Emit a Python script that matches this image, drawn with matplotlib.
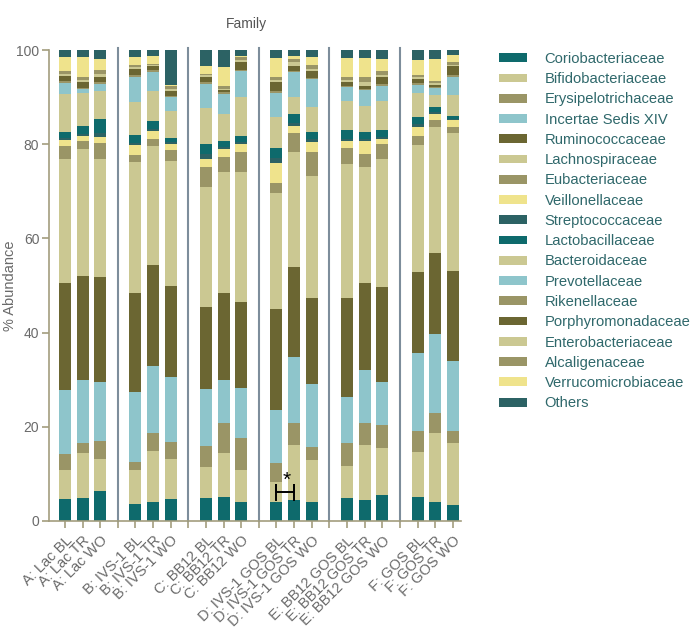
import matplotlib
matplotlib.use("Agg")
import matplotlib.pyplot as plt
import numpy as np

plt.rcParams['font.family'] = ['Liberation Sans', 'DejaVu Sans']

# Ονόματα δειγμάτων (3 χρονικά σημεία ανά ομάδα)
samples = ["A: Lac BL", "A: Lac TR", "A: Lac WO",
           "B: IVS-1 BL", "B: IVS-1 TR", "B: IVS-1 WO",
           "C: BB12 BL", "C: BB12 TR", "C: BB12 WO",
           "D: IVS-1 GOS BL", "D: IVS-1 GOS TR", "D: IVS-1 GOS WO",
           "E: BB12 GOS BL", "E: BB12 GOS TR", "E: BB12 GOS WO",
           "F: GOS BL", "F: GOS TR", "F: GOS WO"]

# Σχετική αφθονία (%) κάθε οικογένειας ανά δείγμα
coriobacteriaceae = [4.7, 4.9, 6.4, 3.6, 4.0, 4.7, 4.9, 5.1, 4.0, 4.0, 4.5, 4.0, 4.9, 4.5, 5.5, 5.1, 4.0, 3.4]
bifidobacteriaceae = [6.1, 9.5, 6.8, 7.2, 10.9, 8.5, 6.6, 9.3, 6.8, 4.3, 11.6, 9.0, 6.8, 11.6, 10.0, 9.5, 14.7, 13.2]
erysipelotrichaceae = [3.4, 2.2, 3.8, 1.7, 3.8, 3.6, 4.4, 6.4, 6.8, 4.0, 4.7, 2.7, 4.9, 4.7, 4.9, 4.5, 4.2, 2.5]
incertae_sedis = [13.6, 13.3, 12.5, 14.9, 14.2, 13.8, 12.1, 9.1, 10.6, 11.3, 14.0, 13.4, 9.7, 11.3, 9.1, 16.6, 16.8, 14.9]
ruminococcaceae = [22.7, 22.1, 22.3, 21.0, 21.5, 19.3, 17.4, 18.5, 18.3, 21.4, 19.1, 18.2, 21.0, 18.4, 20.2, 17.2, 17.2, 19.1]
lachnospiraceae = [26.4, 27.0, 25.1, 27.8, 25.2, 26.5, 25.5, 25.7, 27.6, 24.6, 24.4, 25.9, 28.5, 24.7, 27.2, 26.9, 26.8, 29.3]
eubacteriaceae = [2.7, 1.7, 3.4, 1.5, 1.5, 2.4, 4.3, 3.2, 4.2, 2.2, 4.1, 5.1, 3.4, 2.7, 3.1, 1.9, 1.4, 1.3]
veillonellaceae = [1.3, 1.0, 1.2, 2.1, 1.7, 1.2, 1.7, 1.7, 1.7, 4.2, 1.5, 2.2, 1.5, 2.8, 1.1, 2.0, 1.3, 1.4]
streptococcaceae = [0.5, 0.5, 0.8, 0.5, 0.5, 0.4, 1.1, 0.5, 0.5, 1.0, 0.5, 0.5, 0.5, 0.5, 0.5, 0.5, 0.5, 0.3]
lactobacillaceae = [1.2, 1.7, 3.1, 1.7, 1.6, 0.9, 2.0, 1.2, 1.2, 2.2, 2.0, 1.6, 1.8, 1.4, 1.4, 1.6, 1.0, 0.6]
bacteroidaceae = [8.1, 7.0, 5.9, 7.0, 6.4, 5.7, 7.7, 5.7, 8.3, 6.6, 3.6, 5.3, 6.2, 5.5, 6.2, 5.1, 2.5, 4.4]
prevotellaceae = [2.3, 0.8, 1.5, 5.3, 4.0, 3.0, 5.1, 4.3, 5.5, 5.1, 5.3, 5.9, 2.9, 3.4, 3.2, 1.7, 1.5, 3.9]
rikenellaceae = [0.5, 0.3, 0.4, 0.3, 0.4, 0.3, 0.4, 0.3, 0.3, 0.4, 0.3, 0.3, 0.3, 0.3, 0.3, 0.3, 0.2, 0.3]
porphyromonadaceae = [1.0, 1.2, 1.1, 1.4, 0.9, 1.0, 1.1, 0.6, 1.7, 1.9, 1.0, 1.4, 0.8, 0.5, 1.6, 0.9, 0.4, 2.0]
enterobacteriaceae = [0.3, 0.4, 0.6, 0.4, 0.2, 0.4, 0.3, 0.2, 0.3, 0.4, 0.9, 0.4, 0.4, 0.9, 0.3, 0.4, 0.5, 0.3]
alcaligenaceae = [0.8, 0.7, 0.8, 0.4, 0.2, 0.7, 0.4, 0.6, 0.7, 0.7, 0.6, 0.9, 0.7, 1.1, 0.9, 0.5, 0.4, 0.5]
verrucomicrobiaceae = [2.9, 4.2, 2.4, 1.7, 1.8, 0.2, 1.6, 4.0, 0.2, 4.0, 0.6, 1.7, 4.0, 4.0, 2.6, 3.2, 4.7, 1.5]
others = [1.5, 1.5, 1.9, 1.5, 1.2, 7.4, 3.4, 3.6, 1.3, 1.7, 1.3, 1.5, 1.7, 1.7, 1.9, 2.1, 1.9, 1.1]

# Χρώματα της παλέτας
TEAL = "#0e6a6c"
SLATE = "#2c6264"
KHAKI = "#cbc892"
OLIVE = "#9a9566"
LIGHTBLUE = "#8ec5cb"
DARKOLIVE = "#6b6632"
YELLOW = "#efe38c"

families = [
    ("Coriobacteriaceae", coriobacteriaceae, TEAL),
    ("Bifidobacteriaceae", bifidobacteriaceae, KHAKI),
    ("Erysipelotrichaceae", erysipelotrichaceae, OLIVE),
    ("Incertae Sedis XIV", incertae_sedis, LIGHTBLUE),
    ("Ruminococcaceae", ruminococcaceae, DARKOLIVE),
    ("Lachnospiraceae", lachnospiraceae, KHAKI),
    ("Eubacteriaceae", eubacteriaceae, OLIVE),
    ("Veillonellaceae", veillonellaceae, YELLOW),
    ("Streptococcaceae", streptococcaceae, SLATE),
    ("Lactobacillaceae", lactobacillaceae, TEAL),
    ("Bacteroidaceae", bacteroidaceae, KHAKI),
    ("Prevotellaceae", prevotellaceae, LIGHTBLUE),
    ("Rikenellaceae", rikenellaceae, OLIVE),
    ("Porphyromonadaceae", porphyromonadaceae, DARKOLIVE),
    ("Enterobacteriaceae", enterobacteriaceae, KHAKI),
    ("Alcaligenaceae", alcaligenaceae, OLIVE),
    ("Verrucomicrobiaceae", verrucomicrobiaceae, YELLOW),
    ("Others", others, SLATE),
]

# Θέσεις: 3 μπάρες ανά ομάδα και ένα κενό για τη διαχωριστική γραμμή
positions = np.array([g * 4 + i for g in range(6) for i in range(3)])
separators = [3, 7, 11, 15, 19]

fig = plt.figure(figsize=(6.95, 6.33), dpi=100)
ax = fig.add_axes([0.0705, 0.177, 0.5925, 0.744])

bottom = np.zeros(len(samples))
for name, values, color in families:
    values = np.array(values)
    ax.bar(positions, values, bottom=bottom, width=0.68, color=color, label=name, linewidth=0)
    bottom += values

# Διαχωριστικές γραμμές μεταξύ ομάδων
for s in separators:
    ax.axvline(s, ymin=0, ymax=1.005, color="#7d8d9b", linewidth=1.5, clip_on=False)

# Σημαντική διαφορά D: BL vs D: TR
y_br = 6.2
ax.plot([12, 12, 12, 13, 13, 13], [4.5, 7.7, y_br, y_br, 7.7, 4.5], color="black", linewidth=1.4)
ax.text(12.55, 6.6, "*", ha="center", va="bottom", fontsize=15, color="black")

ax.set_xlim(-0.9, 22.45)
ax.set_ylim(0, 100)

axis_col = "#a39d7e"
for side in ["top", "right"]:
    ax.spines[side].set_visible(False)
for side in ["left", "bottom"]:
    ax.spines[side].set_color(axis_col)
    ax.spines[side].set_linewidth(1.2)

ax.set_yticks([0, 20, 40, 60, 80, 100])
ax.tick_params(axis="y", colors=axis_col, labelcolor="#6a6a6a", labelsize=10, length=5, width=1.2, pad=2)

# Ετικέτες άξονα x σε κάθε θέση, κενές στους διαχωριστές
xticks = np.arange(0, 23)
xlabels = [""] * len(xticks)
for p, s in zip(positions, samples):
    xlabels[p] = s
ax.set_xticks(xticks)
ax.set_xticklabels(xlabels, rotation=45, ha="right", rotation_mode="anchor", fontsize=10.5, color="#6a6a6a")
ax.tick_params(axis="x", colors=axis_col, labelcolor="#6a6a6a", length=5, width=1.2, pad=4)

ax.set_ylabel("% Abundance", fontsize=10.5, color="#6a6a6a")
ax.yaxis.set_label_coords(-0.078, 0.5)
fig.text(0.354, 0.962, "Family", ha="center", va="center", fontsize=10, color="#555555")

fig.legend(loc="upper left", bbox_to_anchor=(0.718, 0.918), frameon=False, fontsize=10.6,
           handlelength=1.9, handleheight=0.55, handletextpad=1.2, labelspacing=0.425,
           borderpad=0, borderaxespad=0, labelcolor="#2f686b")

fig.savefig("out.png", dpi=100)
plt.close()
